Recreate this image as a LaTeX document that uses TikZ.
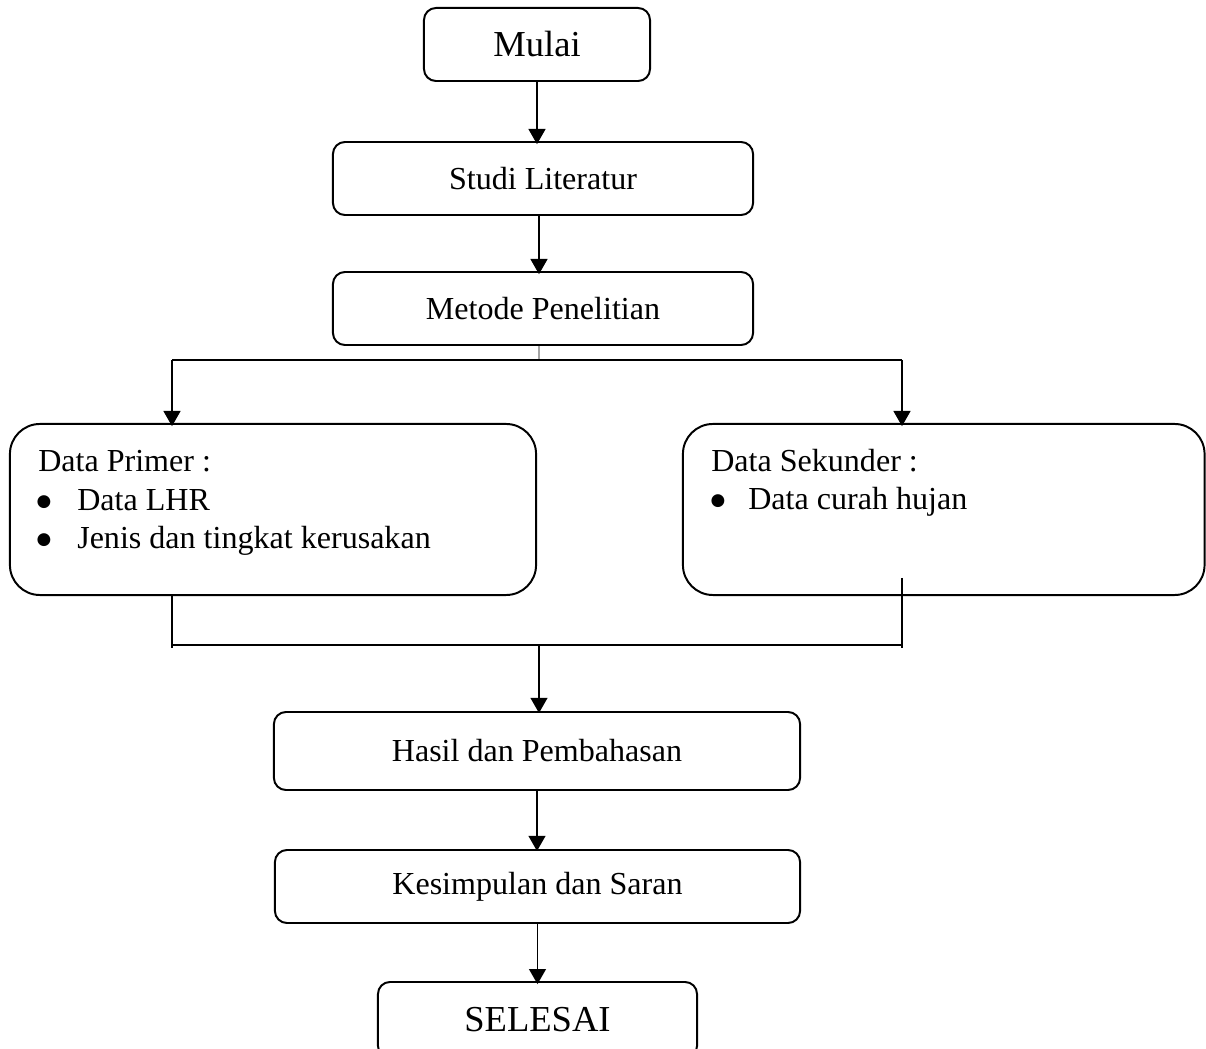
\documentclass[tikz,border=0pt]{standalone}
\usepackage{fontspec}
\setmainfont{Liberation Serif}
\newfontfamily\bulletfont{DejaVu Sans}
\usetikzlibrary{arrows.meta}
\begin{document}
\begin{tikzpicture}[x=0.025cm,y=-0.025cm,
  box/.style={draw,line width=1.4pt,rounded corners=0.3cm,inner sep=0pt,
    font=\fontsize{22.8}{27}\selectfont},
  bigbox/.style={draw,line width=1.4pt,rounded corners=0.75cm,inner sep=0pt},
  endbox/.style={box,font=\fontsize{26}{31}\selectfont},
  txt/.style={anchor=base west,inner sep=0pt,font=\fontsize{22.8}{27}\selectfont},
  bul/.style={anchor=center,inner sep=0pt,font=\bulletfont\fontsize{12}{12}\selectfont},
  conn/.style={line width=1.4pt},
  arr/.style={line width=1.4pt,-{Triangle[width=0.42cm,length=0.38cm]}}]
\useasboundingbox (0,0) rectangle (1206,1049);
% boxes
\node[endbox,minimum width=5.65cm,minimum height=1.825cm] (mulai) at (537,44.5) {Mulai};
\node[box,minimum width=10.5cm,minimum height=1.825cm] (studi) at (543,178.5) {Studi Literatur};
\node[box,minimum width=10.5cm,minimum height=1.825cm] (metode) at (543,308.5) {Metode Penelitian};
\node[bigbox,minimum width=13.15cm,minimum height=4.275cm] (primer) at (273,509.5) {};
\node[bigbox,minimum width=13.0375cm,minimum height=4.275cm] (sekunder) at (943.75,509.5) {};
\node[box,minimum width=13.15cm,minimum height=1.95cm] (hasil) at (537,751) {Hasil dan Pembahasan};
\node[box,minimum width=13.125cm,minimum height=1.825cm] (kesimpulan) at (537.5,886.5) {Kesimpulan dan Saran};
\node[endbox,minimum width=7.975cm,minimum height=1.9cm] (selesai) at (537.5,1020) {SELESAI};
% box texts
\node[txt] (p0) at (38,472) {Data Primer :};
\node[bul] (p1b) at (44,502) {●};
\node[txt] (p1) at (77,511) {Data LHR};
\node[bul] (p2b) at (44,540) {●};
\node[txt] (p2) at (77,549) {Jenis dan tingkat kerusakan};
\node[txt] (s0) at (711,472) {Data Sekunder :};
\node[bul] (s1b) at (718,501) {●};
\node[txt] (s1) at (748,510) {Data curah hujan};
% coordinates
\coordinate (split) at (539,360);
\coordinate (splitL) at (172,360);
\coordinate (splitR) at (902,360);
\coordinate (joinL) at (172,645);
\coordinate (joinR) at (902,645);
\coordinate (joinC) at (539,645);
\coordinate (joinRtop) at (902,578);
% connectors
\draw[arr] (mulai.south) -- ([yshift=-0.08cm]mulai.south |- studi.north);
\draw[arr] ([xshift=-0.1cm]studi.south) -- ([xshift=-0.1cm,yshift=-0.08cm]studi.south |- metode.north);
\draw[line width=0.7pt] ([xshift=-0.1cm]metode.south) -- (split);
\draw[conn] (splitL) -- (splitR);
\draw[arr] (splitL) -- ([yshift=-0.08cm]splitL |- primer.north);
\draw[arr] (splitR) -- ([yshift=-0.08cm]splitR |- sekunder.north);
\draw[conn] (joinL |- primer.south) -- ([yshift=-0.07cm]joinL);
\draw[conn] (joinRtop) -- ([yshift=-0.07cm]joinR);
\draw[conn] (joinL) -- (joinR);
\draw[arr] (joinC) -- ([yshift=-0.05cm]joinC |- hasil.north);
\draw[arr] (hasil.south) -- ([yshift=-0.05cm]hasil.south |- kesimpulan.north);
\draw[arr] (kesimpulan.south) -- ([yshift=-0.08cm]kesimpulan.south |- selesai.north);
\end{tikzpicture}
\end{document}
